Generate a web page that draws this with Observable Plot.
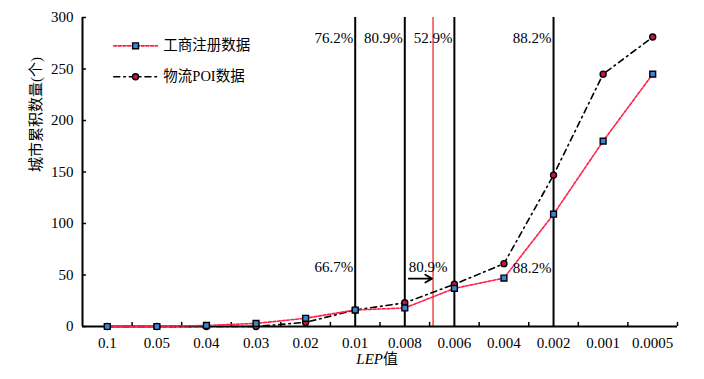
<!DOCTYPE html>
<html><head><meta charset="utf-8">
<script src="https://cdn.jsdelivr.net/npm/d3@7"></script>
<script src="https://cdn.jsdelivr.net/npm/@observablehq/plot@0.6"></script>
<style>body{margin:0;background:#fff}
#chart svg, #chart svg text{font-family:"Liberation Serif","Noto Sans CJK SC",serif !important;}
</style>
</head><body><div id="chart"></div>
<script>
const categories = ["0.1","0.05","0.04","0.03","0.02","0.01","0.008","0.006","0.004","0.002","0.001","0.0005"];
const registerValues = [0,0,1,3,8,16,18,37,47,109,180,245];
const poiValues = [0,0,0,0,4,16,23,41,61,147,245,281];
const seriesNames = ["工商注册数据","物流POI数据"];
const yTicks = [0,50,100,150,200,250,300];
const blackLineAt = ["0.01","0.008","0.006","0.002"];
const redLinePos = 6.57; // between 0.008 and 0.006
const topLabelAt = ["0.01","0.008","0.006","0.002"];
const topLabelText = ["76.2%","80.9%","52.9%","88.2%"];
const lowLabelAt = ["0.01","0.008","0.002"];
const lowLabelText = ["66.7%","80.9%","88.2%"];
const lowLabelY = [58,58,56.5];
const xTitle = ["LEP","值"];
const yTitle = "城市累积数量(个)";

const idx = c => categories.indexOf(c);
const rows = categories.map((c,i)=>({i, reg: registerValues[i], poi: poiValues[i]}));
const REG = "#ff1f4b", REGFILL = "#3a86d6", POIFILL = "#c8143c";
const REGDASH = "3 1.6", POIDASH = "6 4 1.6 4";
const legend = [
  {y:272.5, x1:0.13, x2:1.01, xm:0.57, xt:1.13, name:seriesNames[0]},
  {y:242.5, x1:0.13, x2:1.01, xm:0.57, xt:1.13, name:seriesNames[1]}
];
const low = lowLabelText.map((t,i)=>({t, x:idx(lowLabelAt[i]), y:lowLabelY[i]}));
const topY = 280;

const chart = Plot.plot({
  width:704, height:379, marginLeft:82, marginRight:27, marginTop:17, marginBottom:53,
  style:"font-size:15px;color:#000;background:#fff;",
  x:{type:"linear", domain:[-0.5, categories.length-0.5]},
  y:{domain:[0,300]},
  marks:[
    Plot.axisX({ticks:d3.range(categories.length), tickFormat:i=>categories[i], tickSize:0, tickPadding:11, label:null}),
    Plot.axisY({ticks:yTicks, tickSize:0, tickPadding:9, label:null}),
    Plot.ruleX(d3.range(categories.length).map(i=>i+0.5), {y1:0, y2:4, stroke:"#000", strokeWidth:1.5}),
    Plot.ruleY(yTicks, {x1:-0.5, x2:-0.42, stroke:"#000", strokeWidth:1.5}),
    Plot.ruleX(blackLineAt.map(idx), {y1:0, y2:300, stroke:"#000", strokeWidth:2}),
    Plot.ruleX([redLinePos], {y1:0, y2:300, stroke:"#f04848", strokeWidth:1.5}),
    Plot.ruleY([0], {x1:-0.5, x2:categories.length-0.5, stroke:"#000", strokeWidth:2}),
    Plot.ruleX([-0.5], {y1:0, y2:300, stroke:"#000", strokeWidth:2}),
    Plot.line(rows, {x:"i", y:"poi", stroke:"#000", strokeWidth:1.6, strokeDasharray:POIDASH}),
    Plot.line(rows, {x:"i", y:"reg", stroke:REG, strokeWidth:1.6, strokeDasharray:REGDASH}),
    Plot.dot(rows, {x:"i", y:"poi", r:3, fill:POIFILL, stroke:"#000", strokeWidth:1.4}),
    Plot.dot(rows, {x:"i", y:"reg", r:3.3, symbol:"square", fill:REGFILL, stroke:"#000", strokeWidth:1.4}),
    Plot.text(topLabelText, {x:(d,i)=>idx(topLabelAt[i]), y:topY, text:d=>d, textAnchor:"end", dx:-2, fill:"#000"}),
    Plot.text(low.filter((d,i)=>i!==1), {x:"x", y:"y", text:"t", textAnchor:"end", dx:-2, fill:"#000"}),
    Plot.text(low.filter((d,i)=>i===1), {x:"x", y:"y", text:"t", textAnchor:"start", dx:4, fill:"#000"}),
    Plot.arrow([0], {x1:6.08, x2:6.55, y1:46.5, y2:46.5, stroke:"#000", strokeWidth:1.8, headLength:7}),
    // legend
    Plot.line([{x:legend[0].x1,y:legend[0].y},{x:legend[0].x2,y:legend[0].y}], {x:"x", y:"y", stroke:REG, strokeWidth:1.6, strokeDasharray:REGDASH}),
    Plot.line([{x:legend[1].x1,y:legend[1].y},{x:legend[1].x2,y:legend[1].y}], {x:"x", y:"y", stroke:"#000", strokeWidth:1.6, strokeDasharray:POIDASH}),
    Plot.dot([legend[0]], {x:"xm", y:"y", r:3.3, symbol:"square", fill:REGFILL, stroke:"#000", strokeWidth:1.4}),
    Plot.dot([legend[1]], {x:"xm", y:"y", r:3, fill:POIFILL, stroke:"#000", strokeWidth:1.4}),
    Plot.text(legend, {x:"xt", y:"y", text:"name", textAnchor:"start", fontSize:14.5, fill:"#000"}),
    // axis titles
    Plot.text([xTitle[0]], {frameAnchor:"bottom", text:d=>d, textAnchor:"end", dy:37, dx:3, fontStyle:"italic", fill:"#000"}),
    Plot.text([xTitle[1]], {frameAnchor:"bottom", text:d=>d, textAnchor:"start", dy:37, dx:3, fill:"#000"}),
    Plot.text([yTitle], {frameAnchor:"left", text:d=>d, rotate:-90, dx:-46, fill:"#000"})
  ]
});
document.getElementById("chart").append(chart);
</script>
</body></html>
